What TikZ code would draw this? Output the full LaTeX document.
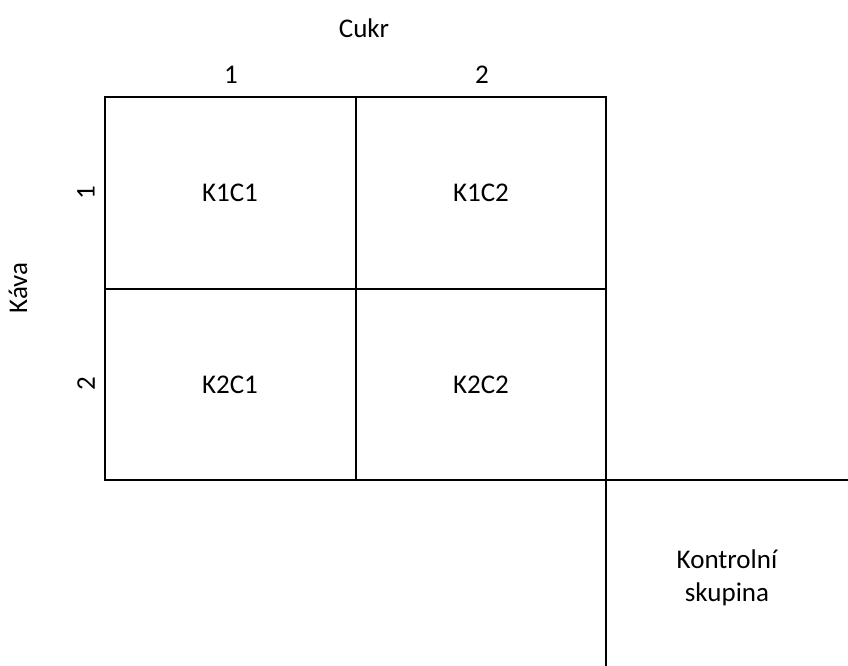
\documentclass[tikz,border=0pt]{standalone}
\usepackage{fontspec}
\setmainfont{Carlito}
\begin{document}
\begin{tikzpicture}[x=1pt,y=-1pt,
  lbl/.style={inner sep=0pt,font=\fontsize{27}{33}\selectfont,align=center},
  grid/.style={line width=2.8pt}]
\useasboundingbox (0,0) rectangle (848,666);
\coordinate (tl) at (105,97);
\coordinate (tm) at (356,97);
\coordinate (tr) at (606,97);
\coordinate (ml) at (105,289);
\coordinate (mr) at (606,289);
\coordinate (bl) at (105,480);
\coordinate (bm) at (356,480);
\coordinate (br) at (606,480);
\coordinate (ce) at (848,480);
\coordinate (cb) at (606,666);
\draw[grid] (tl) rectangle (br);
\draw[grid] (tm) -- (bm);
\draw[grid] (ml) -- (mr);
\draw[grid] (br) -- (ce);
\draw[grid] (br) -- (cb);
\node[lbl] (cukr) at (364,28) {Cukr};
\node[lbl] (c1) at (231,75) {1};
\node[lbl] (c2) at (482,75) {2};
\node[lbl,rotate=90] (kava) at (18,288) {Káva};
\node[lbl,rotate=90] (k1) at (86,193) {1};
\node[lbl,rotate=90] (k2) at (86,384) {2};
\node[lbl] (a) at (230,193) {K1C1};
\node[lbl] (b) at (481,193) {K1C2};
\node[lbl] (c) at (230,385) {K2C1};
\node[lbl] (d) at (481,385) {K2C2};
\node[lbl] (ks) at (727,578) {Kontrolní\\skupina};
\end{tikzpicture}
\end{document}
